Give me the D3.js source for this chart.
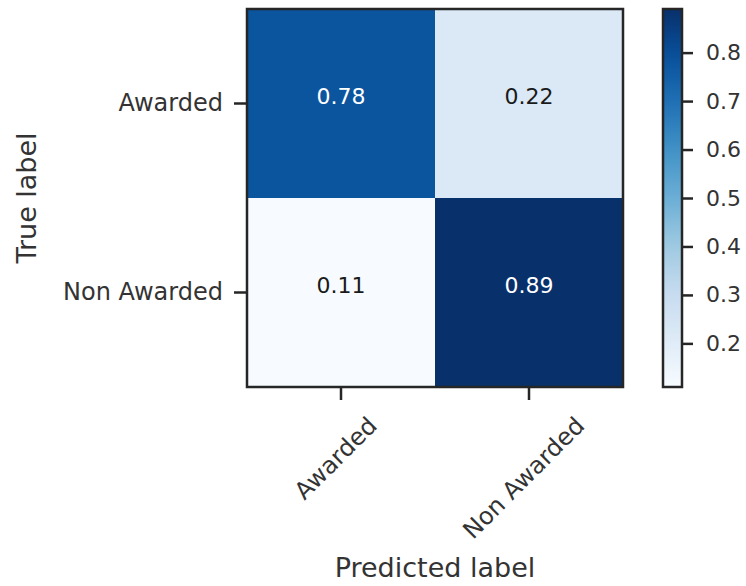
<!DOCTYPE html>
<html>
<head>
<meta charset="utf-8">
<script src="https://cdn.jsdelivr.net/npm/d3@7"></script>
<style>
    body { margin: 0; background: #ffffff; }
    svg { display: block; font-family: "DejaVu Sans", sans-serif; }
</style>
</head>
<body>
<script>
// Confusion matrix values (rows = true label, columns = predicted label)
var trueLabels = ["Awarded", "Non Awarded"];
var predictedLabels = ["Awarded", "Non Awarded"];
var awardedRow = [0.78, 0.22];
var nonAwardedRow = [0.11, 0.89];
var colorbarTicks = [0.2, 0.3, 0.4, 0.5, 0.6, 0.7, 0.8];
var colorDomain = [0.11, 0.89];

// The nine "Blues" colours, joined linearly like the matplotlib colormap
var bluesColors = ["#f7fbff", "#deebf7", "#c6dbef", "#9ecae1", "#6baed6",
                   "#4292c6", "#2171b5", "#08519c", "#08306b"];

window.onload = function() {
    drawMatrix();
};

function drawMatrix() {
    var svgWidth = 746;
    var svgHeight = 586;
    var textColor = "#333333";
    var lineColor = "#262626";

    // Plot area of the matrix
    var plot = { left: 247, right: 623, top: 9, bottom: 387 };
    var tickLength = 13;

    var rows = [awardedRow, nonAwardedRow];
    var cells = [];
    rows.forEach(function(row, i) {
        row.forEach(function(value, j) {
            cells.push({ row: trueLabels[i], col: predictedLabels[j], value: value });
        });
    });

    const svg = d3.select("body").append("svg")
        .attr("width", svgWidth)
        .attr("height", svgHeight);

    const xScale = d3.scaleBand()
        .domain(predictedLabels)
        .range([plot.left, plot.right]);

    const yScale = d3.scaleBand()
        .domain(trueLabels)
        .range([plot.top, plot.bottom]);

    const color = d3.scaleSequential(d3.piecewise(d3.interpolateRgb, bluesColors))
        .domain(colorDomain);

    var threshold = d3.max(cells, function(d) { return d.value; }) / 2;

    // Cells
    svg.append("g").selectAll("rect")
        .data(cells)
        .enter()
        .append("rect")
        .attr("x", function(d) { return xScale(d.col); })
        .attr("y", function(d) { return yScale(d.row); })
        .attr("width", xScale.bandwidth())
        .attr("height", yScale.bandwidth())
        .attr("fill", function(d) { return color(d.value); });

    // Cell annotations
    svg.append("g").selectAll("text")
        .data(cells)
        .enter()
        .append("text")
        .attr("x", function(d) { return xScale(d.col) + xScale.bandwidth() / 2; })
        .attr("y", function(d) { return yScale(d.row) + yScale.bandwidth() / 2 - 7; })
        .attr("text-anchor", "middle")
        .attr("dominant-baseline", "central")
        .attr("font-size", 22)
        .attr("fill", function(d) { return d.value > threshold ? "#ffffff" : "#1a1a1a"; })
        .text(function(d) { return d3.format(".2f")(d.value); });

    // Frame
    svg.append("rect")
        .attr("x", plot.left)
        .attr("y", plot.top)
        .attr("width", plot.right - plot.left)
        .attr("height", plot.bottom - plot.top)
        .attr("fill", "none")
        .attr("stroke", lineColor)
        .attr("stroke-width", 2.5);

    // Y axis
    var yAxis = svg.append("g")
        .attr("transform", `translate(${plot.left}, 0)`)
        .call(d3.axisLeft(yScale).tickSize(tickLength).tickPadding(11));
    yAxis.select(".domain").remove();
    yAxis.selectAll(".tick line").attr("stroke", lineColor).attr("stroke-width", 2.5);
    yAxis.selectAll(".tick text")
        .attr("font-size", 24)
        .attr("font-family", "DejaVu Sans")
        .attr("fill", textColor);

    // X axis with 45 degree labels centred under the ticks
    var xAxis = svg.append("g")
        .attr("transform", `translate(0, ${plot.bottom})`)
        .call(d3.axisBottom(xScale).tickSize(tickLength));
    xAxis.select(".domain").remove();
    xAxis.selectAll(".tick line").attr("stroke", lineColor).attr("stroke-width", 2.5);
    xAxis.selectAll(".tick text")
        .attr("font-size", 24)
        .attr("font-family", "DejaVu Sans")
        .attr("fill", textColor)
        .attr("text-anchor", "middle")
        .attr("dominant-baseline", "central")
        .attr("dy", null)
        .each(function() {
            var w = this.getComputedTextLength();
            var h = 24 * 1.1;
            var cy = tickLength + 10 + (w + h) / (2 * Math.SQRT2);
            d3.select(this)
                .attr("x", -3)
                .attr("y", 0)
                .attr("transform", `translate(-3, ${cy}) rotate(-45)`);
        });

    // Axis labels
    svg.append("text")
        .attr("x", (plot.left + plot.right) / 2)
        .attr("y", 577)
        .attr("text-anchor", "middle")
        .attr("font-size", 27)
        .attr("fill", textColor)
        .text("Predicted label");

    svg.append("text")
        .attr("transform", `translate(36, ${(plot.top + plot.bottom) / 2}) rotate(-90)`)
        .attr("text-anchor", "middle")
        .attr("font-size", 27)
        .attr("fill", textColor)
        .text("True label");

    // Colorbar
    var bar = { left: 663, width: 19 };
    const barScale = d3.scaleLinear()
        .domain(colorDomain)
        .range([plot.bottom, plot.top]);

    var gradient = svg.append("defs").append("linearGradient")
        .attr("id", "blues")
        .attr("x1", "0%").attr("y1", "100%")
        .attr("x2", "0%").attr("y2", "0%");

    gradient.selectAll("stop")
        .data(d3.range(0, 1.0001, 0.05))
        .enter()
        .append("stop")
        .attr("offset", function(t) { return (t * 100) + "%"; })
        .attr("stop-color", function(t) {
            return color(colorDomain[0] + t * (colorDomain[1] - colorDomain[0]));
        });

    svg.append("rect")
        .attr("x", bar.left)
        .attr("y", plot.top)
        .attr("width", bar.width)
        .attr("height", plot.bottom - plot.top)
        .attr("fill", "url(#blues)")
        .attr("stroke", lineColor)
        .attr("stroke-width", 2.5);

    var cAxis = svg.append("g")
        .attr("transform", `translate(${bar.left + bar.width}, 0)`)
        .call(d3.axisRight(barScale)
            .tickValues(colorbarTicks)
            .tickFormat(d3.format(".1f"))
            .tickSize(11)
            .tickPadding(13));
    cAxis.select(".domain").remove();
    cAxis.selectAll(".tick line").attr("stroke", lineColor).attr("stroke-width", 2.5);
    cAxis.selectAll(".tick text")
        .attr("font-size", 22)
        .attr("font-family", "DejaVu Sans")
        .attr("fill", textColor);
}
</script>
</body>
</html>
